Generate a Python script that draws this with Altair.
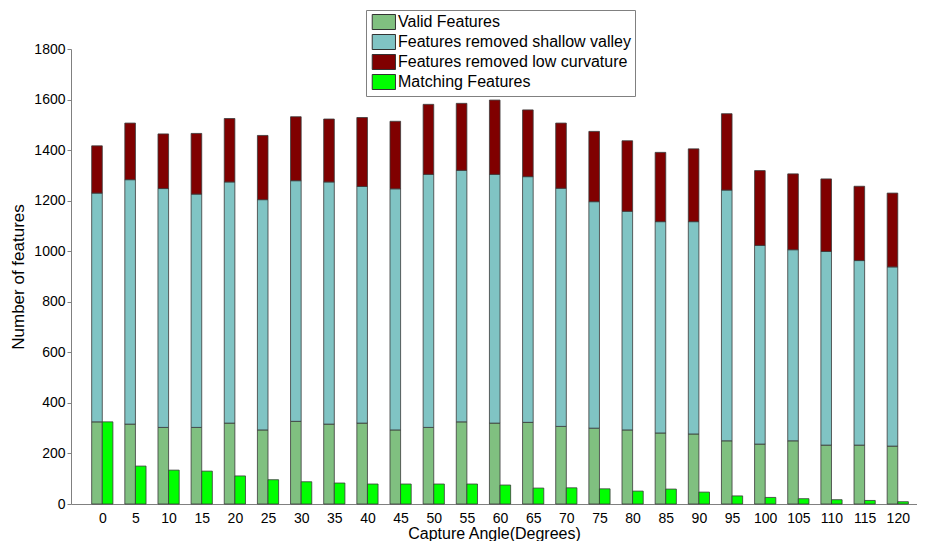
import altair as alt
import pandas as pd

angles = [0, 5, 10, 15, 20, 25, 30, 35, 40, 45, 50, 55, 60, 65, 70, 75, 80, 85, 90, 95, 100, 105, 110, 115, 120]
valid = [325, 316, 303, 303, 320, 293, 327, 316, 320, 293, 303, 325, 320, 323, 307, 300, 293, 281, 277, 250, 237, 250, 233, 233, 229]
shallow = [905, 967, 945, 923, 954, 911, 952, 958, 936, 954, 1001, 995, 984, 972, 942, 896, 865, 836, 840, 992, 786, 756, 766, 730, 709]
low_curv = [187, 224, 216, 240, 251, 254, 253, 249, 273, 267, 277, 265, 294, 264, 258, 278, 279, 274, 288, 302, 296, 300, 287, 294, 292]
matching = [325, 150, 134, 130, 111, 96, 88, 83, 79, 79, 79, 79, 75, 63, 64, 60, 51, 59, 47, 32, 26, 21, 17, 14, 9]

series_names = ["Valid Features", "Features removed shallow valley",
                "Features removed low curvature", "Matching Features"]
series_colors = ["#80C080", "#80C4C4", "#800000", "#00FF00"]

rows = []
for i, a in enumerate(angles):
    for k, (name, vals) in enumerate(zip(series_names[:3], [valid, shallow, low_curv])):
        rows.append({"angle": a, "series": name, "value": vals[i], "order": k})
stack_df = pd.DataFrame(rows)
match_df = pd.DataFrame({"angle": angles, "value": matching, "series": series_names[3]})

FONT = "Liberation Sans"
xscale = alt.Scale(domain=[-4.72, 122.9], nice=False, zero=False)
yscale = alt.Scale(domain=[0, 1800], nice=False)
color = alt.Color(
    "series:N",
    scale=alt.Scale(domain=series_names, range=series_colors),
    title=None,
    legend=alt.Legend(
        orient="none", legendX=295, legendY=-39,
        strokeColor="#808080", fillColor="white", padding=4,
        symbolType="M-0.77,-1H2.33V1H-0.77Z", symbolSize=225,
        symbolStrokeColor="#333333", symbolStrokeWidth=1, symbolOpacity=1,
        labelFont=FONT, labelFontSize=16, labelColor="black",
        labelOffset=12, rowPadding=0, labelLimit=400,
    ),
)

xaxis = alt.Axis(orient="bottom", values=angles, format="d", ticks=False, grid=False,
                 domainColor="#808080", labelFont=FONT, labelFontSize=14,
                 labelColor="black", labelPadding=7, labelOverlap=False,
                 title="Capture Angle(Degrees)",
                 titleFont=FONT, titleFontSize=16, titleFontWeight="normal",
                 titleColor="black", titlePadding=0, labelFlush=False)
yaxis = alt.Axis(orient="left", values=list(range(0, 1801, 200)), format="d", grid=False,
                 domainColor="#808080", tickColor="#808080", tickSize=4,
                 labelFont=FONT, labelFontSize=14, labelColor="black", labelPadding=2,
                 title="Number of features", titleFont=FONT, titleFontSize=17,
                 titleFontWeight="normal", titleColor="black", titlePadding=6)

stacked = alt.Chart(stack_df).transform_stack(
    stack="value", groupby=["angle"], as_=["y0", "y1"],
    sort=[alt.SortField("order", order="ascending")],
).transform_calculate(
    xl="datum.angle - 1.6", xr="datum.angle"
).mark_bar(stroke="#3a3a3a", strokeWidth=0.8).encode(
    x=alt.X("xl:Q", scale=xscale, axis=xaxis),
    x2="xr:Q",
    y=alt.Y("y0:Q", scale=yscale, axis=yaxis),
    y2="y1:Q",
    color=color,
)

match = alt.Chart(match_df).transform_calculate(
    xl="datum.angle", xr="datum.angle + 1.6", base="0"
).mark_bar(stroke="#3a3a3a", strokeWidth=0.8).encode(
    x=alt.X("xl:Q", scale=xscale, axis=xaxis),
    x2="xr:Q",
    y=alt.Y("base:Q", scale=yscale, axis=yaxis),
    y2="value:Q",
    color=color,
)

chart = alt.layer(stacked, match).properties(
    width=846, height=455,
    background="white",
    autosize=alt.AutoSizeParams(type="none"),
    padding={"left": 63, "top": 41, "right": 0, "bottom": 37},
).configure_view(strokeWidth=0, stroke="transparent")

chart.save("out.html", embed_options={"renderer": "svg", "actions": False})
